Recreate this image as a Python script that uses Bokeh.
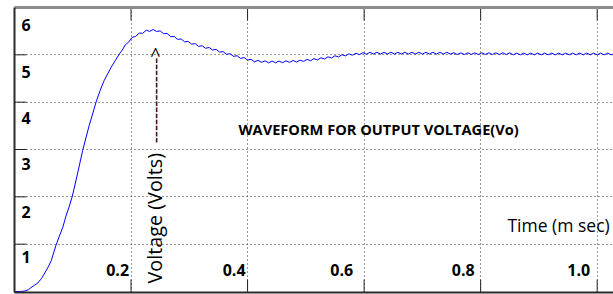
from bokeh.plotting import figure
from bokeh.models import LinearAxis, FixedTicker, Label, ColumnDataSource
from bokeh.core.properties import value
from bokeh.embed import file_html
from bokeh.resources import INLINE
import math

# ---------------- data ----------------
time_ms = [0.000, 0.010, 0.018, 0.024, 0.028, 0.034, 0.040, 0.046, 0.051, 0.057,
           0.063, 0.071, 0.077, 0.083, 0.088, 0.094, 0.099, 0.108, 0.117, 0.128,
           0.140, 0.147, 0.154, 0.160, 0.166, 0.173, 0.180, 0.185,
           0.190, 0.196, 0.202, 0.208, 0.214, 0.220, 0.226, 0.232, 0.238, 0.244,
           0.250, 0.256, 0.262, 0.268, 0.274, 0.280, 0.286, 0.292, 0.298, 0.304,
           0.310, 0.316, 0.322, 0.328, 0.334, 0.340, 0.346, 0.352, 0.358, 0.364,
           0.370, 0.376, 0.382, 0.388, 0.394, 0.400, 0.406, 0.412, 0.418, 0.424,
           0.430, 0.436, 0.442, 0.448, 0.454, 0.460, 0.466, 0.472, 0.478, 0.484,
           0.490, 0.496, 0.502, 0.508, 0.514, 0.520, 0.526, 0.532, 0.538, 0.544,
           0.550, 0.556, 0.562, 0.568, 0.574, 0.580, 0.586, 0.592, 0.598, 0.604,
           0.610, 0.616, 0.622, 0.628, 0.634, 0.640, 0.646, 0.652, 0.658, 0.664,
           0.670, 0.676, 0.682, 0.688, 0.694, 0.700, 0.706, 0.712, 0.718, 0.724,
           0.730, 0.736, 0.742, 0.748, 0.754, 0.760, 0.766, 0.772, 0.778, 0.784,
           0.790, 0.796, 0.802, 0.808, 0.814, 0.820, 0.826, 0.832, 0.838, 0.844,
           0.850, 0.856, 0.862, 0.868, 0.874, 0.880, 0.886, 0.892, 0.898, 0.904,
           0.910, 0.916, 0.922, 0.928, 0.934, 0.940, 0.946, 0.952, 0.958, 0.964,
           0.970, 0.976, 0.982, 0.988, 0.994, 1.000, 1.006, 1.012, 1.018, 1.024,
           1.028]

voltage = [0.00, 0.00, 0.01, 0.04, 0.08, 0.13, 0.18, 0.27, 0.37, 0.50,
           0.65, 0.97, 1.17, 1.36, 1.58, 1.80, 2.00, 2.48, 2.98, 3.50,
           4.00, 4.25, 4.46, 4.60, 4.74, 4.88, 5.02, 5.10,
           5.21, 5.27, 5.37, 5.39, 5.46, 5.455, 5.52, 5.495, 5.535, 5.493,
           5.507, 5.446, 5.452, 5.384, 5.388, 5.326, 5.336, 5.274, 5.284, 5.225,
           5.237, 5.178, 5.192, 5.138, 5.155, 5.101, 5.116, 5.057, 5.069, 5.010,
           5.024, 4.967, 4.982, 4.925, 4.943, 4.889, 4.906, 4.852, 4.883, 4.842,
           4.872, 4.832, 4.868, 4.832, 4.868, 4.834, 4.873, 4.841, 4.881, 4.848,
           4.888, 4.860, 4.904, 4.876, 4.920, 4.892, 4.938, 4.912, 4.958, 4.932,
           4.980, 4.955, 5.003, 4.978, 5.022, 4.992, 5.034, 5.004, 5.046, 5.013,
           5.053, 5.017, 5.053, 5.017, 5.053, 5.017, 5.053, 5.017, 5.053, 5.017,
           5.053, 5.017, 5.053, 5.017, 5.053, 5.017, 5.053, 5.017, 5.053, 5.017,
           5.053, 5.017, 5.053, 5.017, 5.043, 5.007, 5.043, 5.007, 5.043, 5.007,
           5.043, 5.007, 5.043, 5.007, 5.043, 5.007, 5.043, 5.007, 5.043, 5.007,
           5.043, 5.000, 5.036, 5.000, 5.036, 5.000, 5.036, 5.000, 5.036, 5.000,
           5.036, 5.000, 5.036, 5.000, 5.036, 5.000, 5.036, 5.000, 5.036, 5.000,
           5.036, 5.000, 5.036, 5.000, 5.036, 5.000, 5.036, 5.000, 5.036, 5.000,
           5.018]

x_ticks = [0.2, 0.4, 0.6, 0.8, 1.0]
x_tick_labels = ["0.2", "0.4", "0.6", "0.8", "1.0"]
y_ticks = [6, 5, 4, 3, 2, 1]
y_tick_labels = ["6", "5", "4", "3", "2", "1"]

title_text = "WAVEFORM FOR OUTPUT VOLTAGE(Vo)"
x_label_text = "Time (m sec)"
y_label_text = "Voltage (Volts)"
arrow_text = "-------------->"

# ---------------- layout / style ----------------
FONT = "Open Sans"
X0, X1 = 0.0, 1.028
Y0, Y1 = -0.021, 6.0
x_label_dx = [-2, -2, -11, -6, -7]           # pixel nudges of x tick labels
x_label_y = 0.444                            # data y of x tick labels
y_label_y = [5.620, 4.633, 3.655, 2.704, 1.690, 0.725]

p = figure(width=613, height=294, x_range=(X0, X1), y_range=(Y0, Y1),
           output_backend="svg", toolbar_location=None,
           x_axis_location=None, y_axis_location=None,
           min_border_left=14, min_border_right=0, min_border_top=7,
           min_border_bottom=2, background_fill_color="white",
           border_fill_color="white")
p.outline_line_color = None

# frame lines (axes without ticks or labels)
def frame_axis(color, width):
    return LinearAxis(ticker=FixedTicker(ticks=[]), axis_line_color=color,
                      axis_line_width=width, major_tick_in=0, major_tick_out=0,
                      minor_tick_in=0, minor_tick_out=0, major_label_standoff=0)

p.add_layout(frame_axis("#2b2b2b", 2), "left")
p.add_layout(frame_axis("#2b2b2b", 2), "below")
p.add_layout(frame_axis("#8c8c8c", 3), "above")

p.xgrid.ticker = FixedTicker(ticks=x_ticks)
p.ygrid.ticker = FixedTicker(ticks=y_ticks[1:])
for g in (p.xgrid, p.ygrid):
    g.grid_line_color = "#333333"
    g.grid_line_dash = "1 3"
    g.grid_line_width = 1

# inward tick marks
TICK = 13
p.ray(x=x_ticks, y=[Y0] * len(x_ticks), length=TICK, length_units="screen",
      angle=math.pi / 2, line_color="#222222", line_width=1)
p.ray(x=x_ticks, y=[Y1] * len(x_ticks), length=TICK, length_units="screen",
      angle=-math.pi / 2, line_color="#222222", line_width=1)
p.ray(x=[X0] * len(y_ticks[1:]), y=y_ticks[1:], length=12, length_units="screen",
      angle=0, line_color="#222222", line_width=1)

p.line(time_ms, voltage, line_color="#0000ff", line_width=1)

xs = ColumnDataSource(dict(x=x_ticks, y=[x_label_y] * len(x_ticks),
                           t=x_tick_labels, dx=x_label_dx))
p.text(x="x", y="y", text="t", x_offset="dx", source=xs, text_align="right",
       text_baseline="middle", text_font=value(FONT), text_font_style="bold",
       text_font_size="16px", text_color="black")

ys = ColumnDataSource(dict(x=[X0] * len(y_ticks), y=y_label_y, t=y_tick_labels))
p.text(x="x", y="y", text="t", x_offset=7, source=ys, text_align="left",
       text_baseline="middle", text_font=value(FONT), text_font_style="bold",
       text_font_size="16px", text_color="black")

p.add_layout(Label(x=0.3844, y=3.44, text=title_text, text_font=FONT,
                   text_font_style="bold", text_font_size="14.6px",
                   text_align="left", text_baseline="middle", text_color="black"))
p.add_layout(Label(x=0.846, y=1.41, text=x_label_text, text_font=FONT,
                   text_font_size="17.5px", text_align="left",
                   text_baseline="middle", text_color="black"))
p.add_layout(Label(x=0.2411, y=0.17, text=y_label_text, text_font=FONT,
                   text_font_size="19.8px", angle=math.pi / 2, text_align="left",
                   text_baseline="middle", text_color="black"))
p.add_layout(Label(x=0.2411, y=3.13, text=arrow_text, text_font=FONT,
                   text_font_size="19px", angle=math.pi / 2, text_align="left",
                   text_baseline="middle", text_color="black"))

open("out.html", "w").write(file_html(p, INLINE))
